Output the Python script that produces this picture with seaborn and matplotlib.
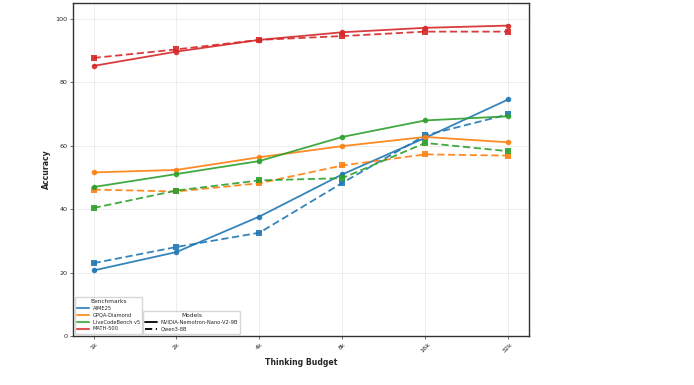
import pandas as pd
import matplotlib.pyplot as plt
import seaborn as sns
from matplotlib.lines import Line2D

budgets = ['1k', '2k', '4k', '8k', '16k', '32k']
benchmarks = ['AIME25', 'GPQA-Diamond', 'LiveCodeBench v5', 'MATH-500']
models = ['NVIDIA-Nemotron-Nano-V2-9B', 'Qwen3-8B']

# accuracy per budget
nemotron_aime = [20.7, 26.5, 37.7, 51.0, 62.5, 74.6]
nemotron_gpqa = [51.6, 52.4, 56.4, 59.9, 62.8, 61.1]
nemotron_lcb = [47.0, 51.1, 55.2, 62.8, 68.0, 69.3]
nemotron_math = [85.2, 89.7, 93.4, 95.8, 97.2, 97.9]

qwen_aime = [23.0, 28.1, 32.6, 48.3, 63.3, 69.9]
qwen_gpqa = [46.2, 45.6, 48.2, 53.8, 57.3, 56.9]
qwen_lcb = [40.4, 45.9, 49.1, 49.8, 60.9, 58.3]
qwen_math = [87.7, 90.4, 93.4, 94.6, 96.0, 96.0]

series = {
    (models[0], 'AIME25'): nemotron_aime,
    (models[0], 'GPQA-Diamond'): nemotron_gpqa,
    (models[0], 'LiveCodeBench v5'): nemotron_lcb,
    (models[0], 'MATH-500'): nemotron_math,
    (models[1], 'AIME25'): qwen_aime,
    (models[1], 'GPQA-Diamond'): qwen_gpqa,
    (models[1], 'LiveCodeBench v5'): qwen_lcb,
    (models[1], 'MATH-500'): qwen_math,
}

rows = []
for (model, bench), vals in series.items():
    for b, v in zip(budgets, vals):
        rows.append({'Model': model, 'Benchmark': bench, 'Budget': b, 'Accuracy': v})
df = pd.DataFrame(rows)

sns.set_style('whitegrid')
plt.rcParams['font.family'] = ['DejaVu Sans']

palette = dict(zip(benchmarks, sns.color_palette('tab10', 4)))

fig, ax = plt.subplots(figsize=(6.94, 3.85), dpi=100)
sns.lineplot(data=df, x='Budget', y='Accuracy', hue='Benchmark', style='Model',
             hue_order=benchmarks, style_order=models, palette=palette,
             markers={models[0]: 'o', models[1]: 's'},
             dashes={models[0]: '', models[1]: (4, 2)},
             markersize=4, markeredgewidth=0, linewidth=1.3, alpha=0.9,
             legend=False, ax=ax)

ax.set_xlim(-0.25, 5.25)
ax.set_ylim(0, 105)
ax.set_yticks([0, 20, 40, 60, 80, 100])
ax.set_xlabel('Thinking Budget', fontsize=5.6, fontweight='bold', labelpad=3)
ax.set_ylabel('Accuracy', fontsize=5.6, fontweight='bold', labelpad=3)
ax.tick_params(axis='both', labelsize=4.6, length=2.5, width=0.6, pad=1.5,
               bottom=True, left=True, color='#555555')
plt.setp(ax.get_xticklabels(), rotation=45, ha='center')
ax.grid(True, color='#ebebeb', linewidth=0.6)
for s in ax.spines.values():
    s.set_color('#333333')
    s.set_linewidth(1.0)

bench_handles = [Line2D([0], [0], color=palette[b], lw=1.5, alpha=0.8) for b in benchmarks]
leg1 = ax.legend(bench_handles, benchmarks, title='Benchmarks', loc='lower left',
                 fontsize=3.7, title_fontsize=4.2, frameon=True, borderpad=0.4,
                 handlelength=2.2, labelspacing=0.35, bbox_to_anchor=(0.0, 0.0))
ax.add_artist(leg1)
model_handles = [Line2D([0], [0], color='black', lw=1.3),
                 Line2D([0], [0], color='black', lw=1.3, dashes=(4, 2))]
ax.legend(model_handles, models, title='Models', loc='lower left',
          fontsize=3.7, title_fontsize=4.2, frameon=True, borderpad=0.4,
          handlelength=2.2, labelspacing=0.35, bbox_to_anchor=(0.149, 0.0))

fig.subplots_adjust(left=0.105, right=0.762, top=0.992, bottom=0.127)
fig.savefig('out.png', dpi=100)
